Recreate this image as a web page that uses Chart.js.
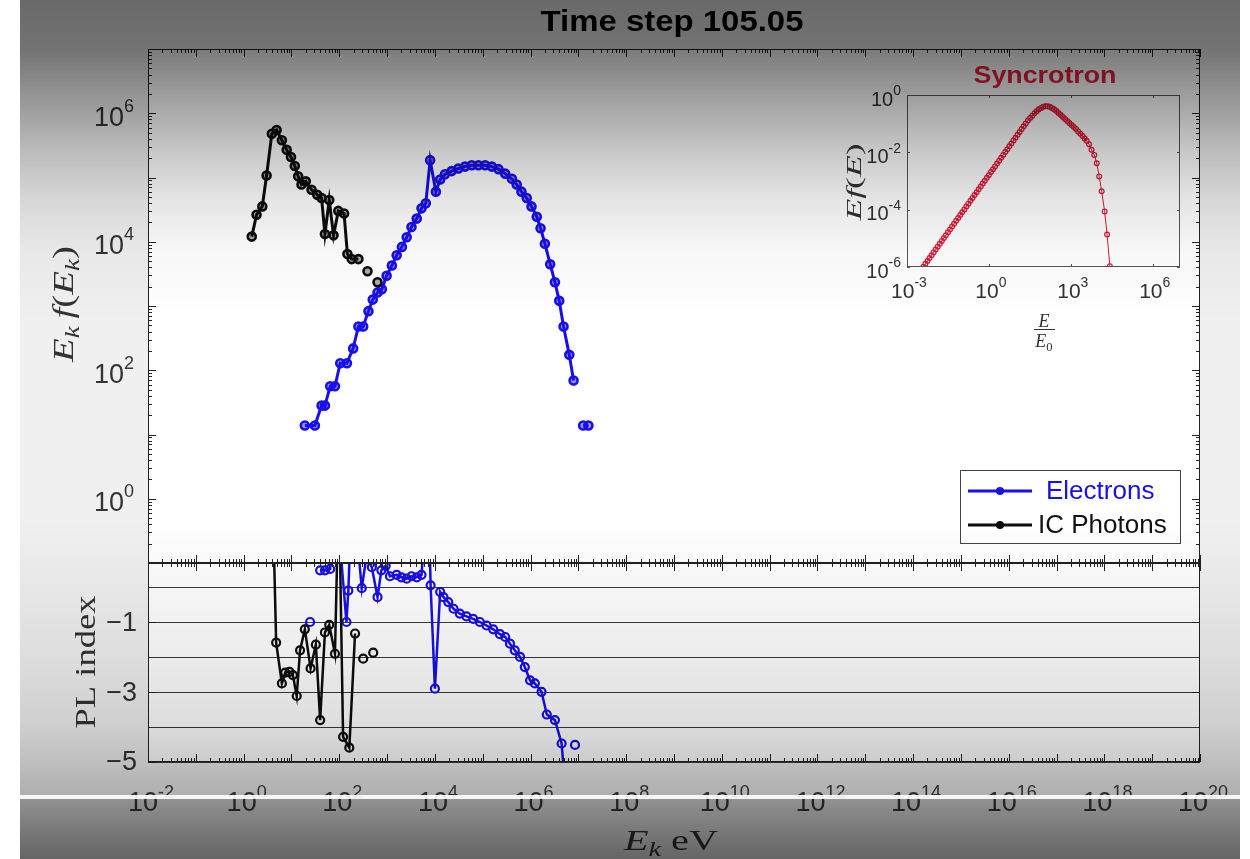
<!DOCTYPE html>
<html>
<head>
<meta charset="utf-8">
<script src="https://cdn.jsdelivr.net/npm/chart.js@4.4.0/dist/chart.umd.min.js"></script>
<style>
  html, body { margin: 0; padding: 0; background: #fff; }
  #fig { position: relative; width: 1250px; height: 859px; overflow: hidden; background: #fff; }
  #frame { position: absolute; left: 20px; top: 0; width: 1220px; height: 859px; background: #f0f0f0; }
  .ax { position: absolute; background: #fff; }
  canvas { position: absolute; left: 0; top: 0; }
  #shade {
    position: absolute; left: 20px; top: 0; width: 1220px; height: 859px; pointer-events: none;
    background: linear-gradient(to bottom,
      rgba(0,0,0,0.56) 0px, rgba(0,0,0,0.52) 48px, rgba(0,0,0,0.37) 100px, rgba(0,0,0,0.22) 150px,
      rgba(0,0,0,0.10) 200px, rgba(0,0,0,0.03) 250px, rgba(0,0,0,0) 320px, rgba(0,0,0,0) 520px,
      rgba(0,0,0,0.03) 580px, rgba(0,0,0,0.07) 650px, rgba(0,0,0,0.13) 720px, rgba(0,0,0,0.20) 760px,
      rgba(0,0,0,0.27) 795px, rgba(0,0,0,0.40) 800px, rgba(0,0,0,0.58) 859px);
  }
  #stripe { position: absolute; left: 0; top: 795px; width: 1250px; height: 4px; background: rgba(255,255,255,0.9); pointer-events: none; }
</style>
</head>
<body>
<div id="fig">
  <div id="frame"></div>
  <div class="ax" style="left:148px;top:49px;width:1052px;height:713px;"></div>
  <canvas id="cTop" width="1250" height="859"></canvas>
  <canvas id="cPl" width="1250" height="859"></canvas>
  <canvas id="cSync" width="1250" height="859"></canvas>
  <div id="shade"></div>
  <div id="stripe"></div>
</div>
<script>
// Datos (exponentes log10 en los paneles log-log)

// Panel superior: E_k f(E_k)
var icLogE = [0.17, 0.27, 0.39, 0.48, 0.59, 0.69, 0.80, 0.90, 0.99, 1.07,
              1.14, 1.21, 1.30, 1.42, 1.54, 1.63, 1.70, 1.79, 1.88, 1.98,
              2.10, 2.17, 2.26, 2.40, null, 2.59, null, 2.80];
var icLogF = [4.08, 4.42, 4.55, 5.03, 5.68, 5.74, 5.58, 5.43, 5.32, 5.18,
              5.02, 4.89, 4.94, 4.81, 4.73, 4.68, 4.12, 4.65, 4.10, 4.48,
              4.44, 3.81, 3.73, 3.73, null, 3.54, null, 3.37];

var elecLogE = [1.28, 1.49, 1.63, 1.70, 1.81, 1.91, 2.02, 2.16, 2.29, 2.40,
                2.50, 2.61, 2.70, 2.80, 2.89, 2.99, 3.10, 3.20, 3.31, 3.41,
                3.51, 3.62, 3.72, 3.81, 3.90, 4.02, 4.11, 4.21, 4.35, 4.49,
                4.63, 4.77, 4.91, 5.05, 5.19, 5.33, 5.47, 5.61, 5.71, 5.81,
                5.92, 6.02, 6.13, 6.21, 6.30, 6.41, 6.51, 6.60, 6.69, 6.81,
                6.90, null, 7.10, 7.21];
var elecLogF = [1.14, 1.14, 1.45, 1.45, 1.75, 1.75, 2.11, 2.11, 2.34, 2.68,
                2.68, 2.92, 3.10, 3.21, 3.26, 3.47, 3.63, 3.79, 3.92, 4.07,
                4.23, 4.36, 4.52, 4.60, 5.27, 4.78, 4.97, 5.05, 5.10, 5.14,
                5.17, 5.19, 5.19, 5.19, 5.17, 5.13, 5.06, 4.98, 4.89, 4.78,
                4.68, 4.55, 4.39, 4.21, 3.97, 3.65, 3.37, 3.08, 2.68, 2.24,
                1.84, null, 1.14, 1.14];

// Panel inferior: PL index (3.0 / -6.0 = fuera de escala)
var icPlE = [0.60, 0.68, 0.80, 0.87, 0.96, 1.03, 1.11, 1.18, 1.28, 1.40,
             1.51, 1.60, 1.70, 1.79, 1.91, 1.99, 2.08, 2.21, 2.33, null,
             2.50, null, 2.71];
var icPl = [3.0, -1.58, -2.75, -2.44, -2.42, -2.51, -3.11, -1.80, -1.20, -2.32,
            -1.64, -3.80, -1.29, -1.07, -1.90, 3.0, -4.28, -4.59, -1.32, null,
            -2.04, null, -1.87];

var elecPlE = [1.39, null, 1.60, 1.70, 1.81, 1.91, 2.15, 2.19, 2.27, 2.47,
               2.57, 2.68, 2.80, 2.88, 2.97, 3.06, 3.20, 3.30, 3.41, 3.51,
               3.62, 3.72, 3.86, 3.91, 4.00, 4.11, 4.18, 4.28, 4.39, 4.52,
               4.66, 4.80, 4.94, 5.08, 5.22, 5.36, 5.47, 5.57, 5.67, 5.78,
               5.88, 5.99, 6.09, 6.23, 6.34, 6.51, 6.65, 6.74, null, 6.93];
var elecPl = [-0.99, null, 0.49, 0.49, 0.53, 3.0, -0.99, -0.09, 3.0, -0.02,
              0.9, 0.58, -0.28, 0.49, 0.62, 0.32, 0.36, 0.29, 0.25, 0.32,
              0.29, 0.36, 3.0, 0.06, -2.90, -0.13, -0.28, -0.42, -0.61, -0.75,
              -0.83, -0.90, -0.99, -1.09, -1.20, -1.34, -1.42, -1.61, -1.80, -1.99,
              -2.28, -2.66, -2.75, -2.99, -3.64, -3.80, -4.47, -6.0, null, -4.51];

// Recuadro: Syncrotron
var syncLogE = [-2.400, -2.325, -2.250, -2.175, -2.100, -2.025, -1.950, -1.875, -1.800, -1.725,
                -1.650, -1.575, -1.500, -1.425, -1.350, -1.275, -1.200, -1.125, -1.050, -0.975,
                -0.900, -0.825, -0.750, -0.675, -0.600, -0.525, -0.450, -0.375, -0.300, -0.225,
                -0.150, -0.075, 0.000, 0.075, 0.150, 0.225, 0.300, 0.375, 0.450, 0.525,
                0.600, 0.675, 0.750, 0.825, 0.900, 0.975, 1.050, 1.125, 1.200, 1.275,
                1.350,
                1.43, 1.51, 1.59, 1.67, 1.75, 1.83, 1.91, 1.99, 2.07, 2.15,
                2.23, 2.31, 2.39, 2.47, 2.55, 2.63, 2.71, 2.79, 2.87, 2.95,
                3.03, 3.11, 3.19, 3.27, 3.35, 3.43, 3.51, 3.58, 3.67, 3.76,
                3.86, 3.95, 4.04, 4.13, 4.24, 4.33, 4.43];
var syncLogF = [-5.99, -5.89, -5.79, -5.69, -5.59, -5.49, -5.39, -5.29, -5.19, -5.09,
                -4.99, -4.89, -4.79, -4.69, -4.59, -4.49, -4.39, -4.29, -4.19, -4.09,
                -3.99, -3.89, -3.79, -3.69, -3.59, -3.49, -3.39, -3.29, -3.19, -3.09,
                -2.99, -2.89, -2.79, -2.69, -2.59, -2.49, -2.39, -2.29, -2.19, -2.09,
                -1.99, -1.89, -1.79, -1.69, -1.59, -1.49, -1.39, -1.29, -1.19, -1.09,
                -0.99,
                -0.89, -0.80, -0.72, -0.64, -0.57, -0.50, -0.45, -0.41, -0.39, -0.39,
                -0.41, -0.45, -0.50, -0.56, -0.63, -0.70, -0.77, -0.84, -0.91, -0.98,
                -1.05, -1.12, -1.19, -1.27, -1.35, -1.43, -1.52, -1.60, -1.72, -1.91,
                -2.09, -2.38, -2.84, -3.36, -4.06, -4.87, -5.97];

// Marcas de los ejes
var xTickExp = [-2, 0, 2, 4, 6, 8, 10, 12, 14, 16, 18, 20];
var yTickExp = [0, 2, 4, 6];
var plTicks = [-5, -3, -1];
var syncXExp = [-3, 0, 3, 6];
var syncYExp = [-6, -4, -2, 0];

var BLUE = 'rgb(25,15,235)';
var BLUE_FILL = 'rgba(25,15,235,0.45)';
var BLACK = '#0d0d0d';
var BLACK_FILL = 'rgba(13,13,13,0.35)';
var RED = 'rgb(220,25,55)';
var INK = '#333';
var SANS = '"Liberation Sans", Arial, Helvetica, sans-serif';
var SERIF = '"Liberation Serif", "Times New Roman", serif';

function pts(xs, ys, logY) {
    return xs.map(function (x, i) {
        var y = ys[i];
        return {
            x: x === null ? null : Math.pow(10, x),
            y: y === null ? null : (logY ? Math.pow(10, y) : y)
        };
    });
}

function serie(label, data, color, fill, lw, r, pbw) {
    return {
        label: label, data: data, showLine: true, spanGaps: false,
        borderColor: color, borderWidth: lw,
        pointRadius: r, pointBorderWidth: pbw, pointBorderColor: color,
        pointBackgroundColor: fill, pointHoverRadius: r
    };
}

// ---- utilidades de dibujo ----
function box(ctx, a, color) {
    ctx.save();
    ctx.strokeStyle = color;
    ctx.lineWidth = 1;
    ctx.strokeRect(Math.round(a.left) + 0.5, Math.round(a.top) + 0.5,
                   Math.round(a.right - a.left) - 1, Math.round(a.bottom - a.top) - 1);
    ctx.restore();
}

function logTicks(ctx, scale, a, horiz, majLen, minLen, color) {
    var lo = Math.floor(Math.log10(scale.min)), hi = Math.ceil(Math.log10(scale.max));
    ctx.save();
    ctx.strokeStyle = color;
    ctx.lineWidth = 1;
    ctx.beginPath();
    for (var d = lo; d <= hi; d++) {
        for (var m = 1; m < 10; m++) {
            var v = m * Math.pow(10, d);
            if (v < scale.min * 0.999 || v > scale.max * 1.001) continue;
            var p = Math.round(scale.getPixelForValue(v)) + 0.5;
            var L = m === 1 ? majLen : minLen;
            if (horiz) {
                ctx.moveTo(p, a.bottom); ctx.lineTo(p, a.bottom - L);
                ctx.moveTo(p, a.top); ctx.lineTo(p, a.top + L);
            } else {
                ctx.moveTo(a.left, p); ctx.lineTo(a.left + L, p);
                ctx.moveTo(a.right, p); ctx.lineTo(a.right - L, p);
            }
        }
    }
    ctx.stroke();
    ctx.restore();
}

function pow10(ctx, x, y, e, fs, align, color) {
    var sup = String(e);
    var ss = Math.round(fs * 0.68);
    ctx.save();
    ctx.font = fs + 'px ' + SANS;
    var bw = ctx.measureText('10').width;
    ctx.font = ss + 'px ' + SANS;
    var sw = ctx.measureText(sup).width;
    var x0 = align === 'right' ? x - bw - sw : x - (bw + sw) / 2;
    ctx.fillStyle = color;
    ctx.textAlign = 'left';
    ctx.textBaseline = 'middle';
    ctx.font = fs + 'px ' + SANS;
    ctx.fillText('10', x0, y);
    ctx.font = ss + 'px ' + SANS;
    ctx.fillText(sup, x0 + bw, y - fs * 0.42);
    ctx.restore();
}

// parts: [texto, italica, subindice]
function mathLabel(ctx, parts, cx, cy, fs, opt) {
    opt = opt || {};
    ctx.save();
    ctx.translate(cx, cy);
    if (opt.rot) ctx.rotate(-Math.PI / 2);
    var fonts = parts.map(function (p) {
        return (p[1] ? 'italic ' : '') + (opt.bold ? 'bold ' : '') + (p[2] ? fs * 0.7 : fs) + 'px ' + (opt.sans ? SANS : SERIF);
    });
    var w = 0;
    var ws = parts.map(function (p, i) {
        ctx.font = fonts[i];
        var m = ctx.measureText(p[0]).width;
        w += m;
        return m;
    });
    if (opt.width) ctx.scale(opt.width / w, 1);
    var x = -w / 2;
    ctx.fillStyle = opt.color || INK;
    ctx.textAlign = 'left';
    ctx.textBaseline = 'alphabetic';
    parts.forEach(function (p, i) {
        ctx.font = fonts[i];
        ctx.fillText(p[0], x, fs * 0.35 + (p[2] ? fs * 0.22 : 0));
        x += ws[i];
    });
    ctx.restore();
}

// ---- panel superior ----
var topDeco = {
    id: 'topDeco',
    afterDraw: function (chart) {
        var ctx = chart.ctx, a = chart.chartArea, sx = chart.scales.x, sy = chart.scales.y;
        box(ctx, a, '#222');
        logTicks(ctx, sx, a, true, 8, 4, '#222');
        logTicks(ctx, sy, a, false, 8, 4, '#222');
        yTickExp.forEach(function (e) {
            pow10(ctx, 134, sy.getPixelForValue(Math.pow(10, e)) + 5, e, 27, 'right', INK);
        });
        mathLabel(ctx, [['E', 1, 0], ['k', 1, 1], ['\u2009', 0, 0], ['f', 1, 0], ['(', 0, 0],
                        ['E', 1, 0], ['k', 1, 1], [')', 0, 0]], 62, 304, 30, { rot: true, width: 116 });
        mathLabel(ctx, [['Time step 105.05', 0, 0]], 672, 20, 30, { sans: true, bold: true, color: '#000', width: 263 });

        // leyenda
        var ds = chart.data.datasets;
        ctx.save();
        ctx.fillStyle = '#fff';
        ctx.strokeStyle = '#444';
        ctx.lineWidth = 1;
        ctx.fillRect(960, 470, 220, 73);
        ctx.strokeRect(960.5, 470.5, 220, 73);
        var rows = [{ d: ds[1], y: 491, tx: 1046 }, { d: ds[0], y: 525, tx: 1038 }];
        rows.forEach(function (r) {
            ctx.strokeStyle = r.d.borderColor;
            ctx.lineWidth = 3;
            ctx.beginPath(); ctx.moveTo(968, r.y); ctx.lineTo(1032, r.y); ctx.stroke();
            ctx.fillStyle = r.d.borderColor;
            ctx.beginPath(); ctx.arc(1000, r.y, 4, 0, Math.PI * 2); ctx.fill();
            ctx.font = '26px ' + SANS;
            ctx.textAlign = 'left';
            ctx.textBaseline = 'middle';
            ctx.fillStyle = r.d.borderColor === BLACK ? '#111' : r.d.borderColor;
            ctx.fillText(r.d.label, r.tx, r.y + 1);
        });
        ctx.restore();
    }
};

new Chart(document.getElementById('cTop'), {
    type: 'scatter',
    data: {
        datasets: [
            serie('IC Photons', pts(icLogE, icLogF, true), BLACK, BLACK_FILL, 3, 4, 2.6),
            serie('Electrons', pts(elecLogE, elecLogF, true), BLUE, BLUE_FILL, 3, 4, 2.6)
        ]
    },
    options: {
        responsive: false, animation: false, devicePixelRatio: 1,
        layout: { padding: { left: 148, right: 50, top: 49, bottom: 859 - 563 } },
        scales: {
            x: { type: 'logarithmic', min: 1e-2, max: 1e20, display: false },
            y: { type: 'logarithmic', min: 1e-1, max: 1e7, display: false }
        },
        plugins: { legend: { display: false }, tooltip: { enabled: false } }
    },
    plugins: [topDeco]
});

// ---- panel inferior: PL index ----
var plDeco = {
    id: 'plDeco',
    afterDraw: function (chart) {
        var ctx = chart.ctx, a = chart.chartArea, sx = chart.scales.x, sy = chart.scales.y;
        box(ctx, a, '#222');
        logTicks(ctx, sx, a, true, 8, 4, '#222');
        ctx.save();
        ctx.strokeStyle = '#222';
        ctx.lineWidth = 1;
        ctx.beginPath();
        plTicks.forEach(function (t) {
            var p = Math.round(sy.getPixelForValue(t)) + 0.5;
            ctx.moveTo(a.left, p); ctx.lineTo(a.left + 8, p);
            ctx.moveTo(a.right, p); ctx.lineTo(a.right - 8, p);
        });
        ctx.stroke();
        ctx.font = '27px ' + SANS;
        ctx.fillStyle = INK;
        ctx.textAlign = 'right';
        ctx.textBaseline = 'middle';
        plTicks.forEach(function (t) {
            ctx.fillText(String(t).replace('-', '\u2212'), 137, sy.getPixelForValue(t) + 1);
        });
        ctx.restore();
        xTickExp.forEach(function (e) {
            pow10(ctx, sx.getPixelForValue(Math.pow(10, e)) + 3, 804, e, 27, 'center', '#3c3c3c');
        });
        mathLabel(ctx, [['E', 1, 0], ['k', 1, 1], [' eV', 0, 0]], 671, 839, 30, { width: 94 });
        mathLabel(ctx, [['PL index', 0, 0]], 84, 662, 30, { rot: true, width: 133 });
    }
};

new Chart(document.getElementById('cPl'), {
    type: 'scatter',
    data: {
        datasets: [
            serie('IC Photons', pts(icPlE, icPl, false), BLACK, 'rgba(255,255,255,0)', 2.5, 4, 2.2),
            serie('Electrons', pts(elecPlE, elecPl, false), BLUE, 'rgba(255,255,255,0)', 2.5, 4, 2.2)
        ]
    },
    options: {
        responsive: false, animation: false, devicePixelRatio: 1,
        layout: { padding: { left: 148, right: 50, top: 563, bottom: 859 - 762 } },
        scales: {
            x: { type: 'logarithmic', min: 1e-2, max: 1e20, display: false },
            y: {
                type: 'linear', min: -5, max: 0.7,
                ticks: { display: false, stepSize: 1, includeBounds: false },
                grid: { color: '#3a3a3a', lineWidth: 1, drawTicks: false },
                border: { display: false },
                afterFit: function (s) { s.width = 0; }
            }
        },
        plugins: { legend: { display: false }, tooltip: { enabled: false } }
    },
    plugins: [plDeco]
});

// ---- recuadro Syncrotron ----
var syncDeco = {
    id: 'syncDeco',
    afterDraw: function (chart) {
        var ctx = chart.ctx, a = chart.chartArea, sx = chart.scales.x, sy = chart.scales.y;
        box(ctx, a, '#555');
        ctx.save();
        ctx.strokeStyle = '#555';
        ctx.lineWidth = 1;
        ctx.beginPath();
        syncXExp.forEach(function (e) {
            var p = Math.round(sx.getPixelForValue(Math.pow(10, e))) + 0.5;
            ctx.moveTo(p, a.bottom); ctx.lineTo(p, a.bottom - 3);
            ctx.moveTo(p, a.top); ctx.lineTo(p, a.top + 3);
        });
        syncYExp.forEach(function (e) {
            var p = Math.round(sy.getPixelForValue(Math.pow(10, e))) + 0.5;
            ctx.moveTo(a.left, p); ctx.lineTo(a.left + 3, p);
            ctx.moveTo(a.right, p); ctx.lineTo(a.right - 3, p);
        });
        ctx.stroke();
        ctx.restore();
        syncYExp.forEach(function (e) {
            pow10(ctx, 901, sy.getPixelForValue(Math.pow(10, e)) + 5, e, 20, 'right', INK);
        });
        syncXExp.forEach(function (e) {
            pow10(ctx, sx.getPixelForValue(Math.pow(10, e)) + 2, 292, e, 21, 'center', INK);
        });
        mathLabel(ctx, [['Syncrotron', 0, 0]], 1045, 75, 24, { sans: true, bold: true, color: '#e8203f', width: 143 });
        mathLabel(ctx, [['E', 1, 0], ['f', 1, 0], ['(', 0, 0], ['E', 1, 0], [')', 0, 0]], 854, 182, 21, { rot: true, width: 77 });
        // E / E0
        mathLabel(ctx, [['E', 1, 0]], 1044, 321, 18);
        ctx.save();
        ctx.fillStyle = INK;
        ctx.fillRect(1034, 329, 21, 1);
        ctx.restore();
        mathLabel(ctx, [['E', 1, 0], ['0', 0, 1]], 1044, 341, 18);
    }
};

new Chart(document.getElementById('cSync'), {
    type: 'scatter',
    data: {
        datasets: [serie('Syncrotron', pts(syncLogE, syncLogF, true), RED, 'rgba(255,255,255,0)', 1, 2.4, 1.2)]
    },
    options: {
        responsive: false, animation: false, devicePixelRatio: 1,
        layout: { padding: { left: 907, right: 1250 - 1180, top: 95, bottom: 859 - 267 } },
        scales: {
            x: { type: 'logarithmic', min: 1e-3, max: 1e7, display: false },
            y: { type: 'logarithmic', min: 1e-6, max: 1, display: false }
        },
        plugins: { legend: { display: false }, tooltip: { enabled: false } }
    },
    plugins: [syncDeco]
});
</script>
</body>
</html>
